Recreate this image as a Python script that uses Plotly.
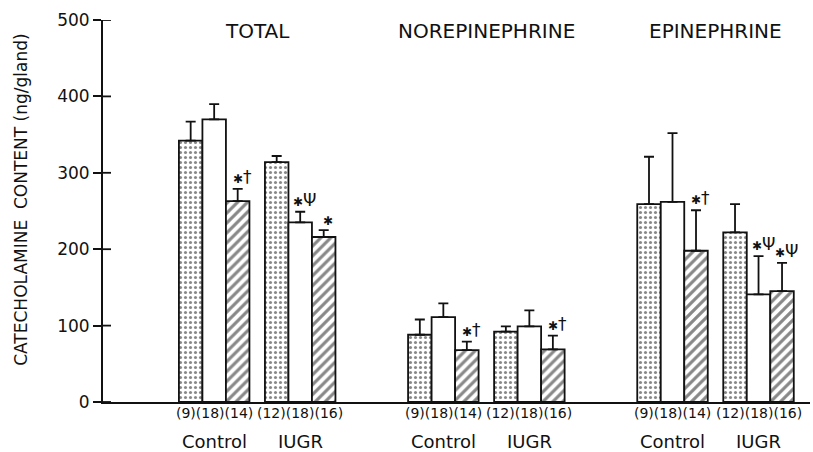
import plotly.graph_objects as go

# ---------------- data ----------------
groups = ["TOTAL", "NOREPINEPHRINE", "EPINEPHRINE"]
conditions = ["Control", "IUGR"]
# order of values: TOTAL-Control, TOTAL-IUGR, NE-Control, NE-IUGR, EPI-Control, EPI-IUGR
dotted_mean = [342, 314, 88, 92, 259, 222]
dotted_err = [25, 8, 20, 7, 62, 37]
open_mean = [370, 235, 111, 99, 262, 141]
open_err = [20, 14, 18, 21, 90, 50]
hatched_mean = [263, 216, 68, 69, 198, 145]
hatched_err = [16, 9, 11, 18, 53, 37]
n_dotted = [9, 12]
n_open = [18, 18]
n_hatched = [14, 16]
dotted_sig = ["", "", "", "", "", ""]
open_sig = ["", "✱Ψ", "", "", "", "✱Ψ"]
hatched_sig = ["✱†", "✱", "✱†", "✱†", "✱†", "✱Ψ"]
y_ticks = [0, 100, 200, 300, 400, 500]
y_title = "CATECHOLAMINE  CONTENT (ng/gland)"

# ---------------- layout constants ----------------
BAR_W = 1.0
GROUP_STEP = 9.75
COND_STEP = 3.66
FONT = "DejaVu Sans"
INK = "#111111"
PLOT_W_PX = 813 - 103 - 3


def cond_start(i):
    g, c = divmod(i, 2)
    return g * GROUP_STEP + c * COND_STEP


n_slots = len(groups) * len(conditions)
x_dot = [cond_start(i) + 0 * BAR_W for i in range(n_slots)]
x_open = [cond_start(i) + 1 * BAR_W for i in range(n_slots)]
x_hat = [cond_start(i) + 2 * BAR_W for i in range(n_slots)]

fig = go.Figure()

err_style = dict(type="data", symmetric=False, color=INK, thickness=1.8, width=5)

fig.add_trace(go.Bar(
    x=x_dot, y=dotted_mean, width=[BAR_W] * n_slots,
    marker=dict(color="white", line=dict(color=INK, width=1.8),
                pattern=dict(shape=".", fgcolor=INK, bgcolor="white", size=5, solidity=0.3)),
    error_y=dict(array=dotted_err, arrayminus=[0] * n_slots, **err_style),
    showlegend=False,
))
fig.add_trace(go.Bar(
    x=x_open, y=open_mean, width=[BAR_W] * n_slots,
    marker=dict(color="white", line=dict(color=INK, width=1.8)),
    error_y=dict(array=open_err, arrayminus=[0] * n_slots, **err_style),
    showlegend=False,
))
fig.add_trace(go.Bar(
    x=x_hat, y=hatched_mean, width=[BAR_W] * n_slots,
    marker=dict(color="white", line=dict(color=INK, width=1.8),
                pattern=dict(shape="/", fgcolor=INK, bgcolor="white", size=7, solidity=0.45)),
    error_y=dict(array=hatched_err, arrayminus=[0] * n_slots, **err_style),
    showlegend=False,
))

annotations = []
# significance marks
for xs, means, errs, sig in [(x_dot, dotted_mean, dotted_err, dotted_sig),
                             (x_open, open_mean, open_err, open_sig),
                             (x_hat, hatched_mean, hatched_err, hatched_sig)]:
    for x, m, e, s in zip(xs, means, errs, sig):
        if s:
            txt = s.replace("✱", "<span style='font-size:12px'>✱</span>")
            annotations.append(dict(x=x + 0.2, y=m + e, xref="x", yref="y", text=txt,
                                    showarrow=False, yanchor="bottom", yshift=0,
                                    font=dict(family=FONT, size=17, color=INK)))

# counts and condition labels
for i in range(n_slots):
    c = i % 2
    center = cond_start(i) + 1 * BAR_W
    counts = "({})({})({})".format(n_dotted[c], n_open[c], n_hatched[c])
    annotations.append(dict(x=center, y=0, xref="x", yref="y", text=counts, showarrow=False,
                            yanchor="top", yshift=-1,
                            font=dict(family=FONT, size=14, color=INK)))
    annotations.append(dict(x=center, y=0, xref="x", yref="y", text=conditions[c], showarrow=False,
                            yanchor="top", yshift=-27,
                            font=dict(family=FONT, size=18, color=INK)))

# group titles
for g, name in enumerate(groups):
    center = g * GROUP_STEP + (COND_STEP + 3 * BAR_W) / 2 - 0.5 * BAR_W
    annotations.append(dict(x=center, y=485, xref="x", yref="y", text=name, showarrow=False,
                            yanchor="middle",
                            font=dict(family=FONT, size=20, color=INK)))

# y axis title
annotations.append(dict(x=-0.117, y=0.53, xref="paper", yref="paper", text=y_title,
                        showarrow=False, textangle=-90, xanchor="center", yanchor="middle",
                        font=dict(family=FONT, size=17, color=INK)))

# inner half of the crossing tick marks
shapes = [dict(type="line", xref="paper", yref="y", x0=0, x1=8 / PLOT_W_PX, y0=t, y1=t,
               line=dict(color=INK, width=1.8)) for t in y_ticks]

fig.update_layout(
    width=813, height=452,
    margin=dict(l=103, r=3, t=20, b=50),
    paper_bgcolor="white", plot_bgcolor="white",
    barmode="overlay",
    annotations=annotations,
    shapes=shapes,
    xaxis=dict(range=[-3.73, 26.35], showgrid=False, zeroline=False, showticklabels=False,
               ticks="", showline=True, linecolor=INK, linewidth=2),
    yaxis=dict(range=[0, 500], tickvals=y_ticks, ticks="outside", ticklen=8, tickwidth=1.8,
               tickcolor=INK, showgrid=False, zeroline=False, showline=True, linecolor=INK,
               linewidth=2, tickfont=dict(family=FONT, size=17, color=INK)),
)

fig.write_html("out.html")
